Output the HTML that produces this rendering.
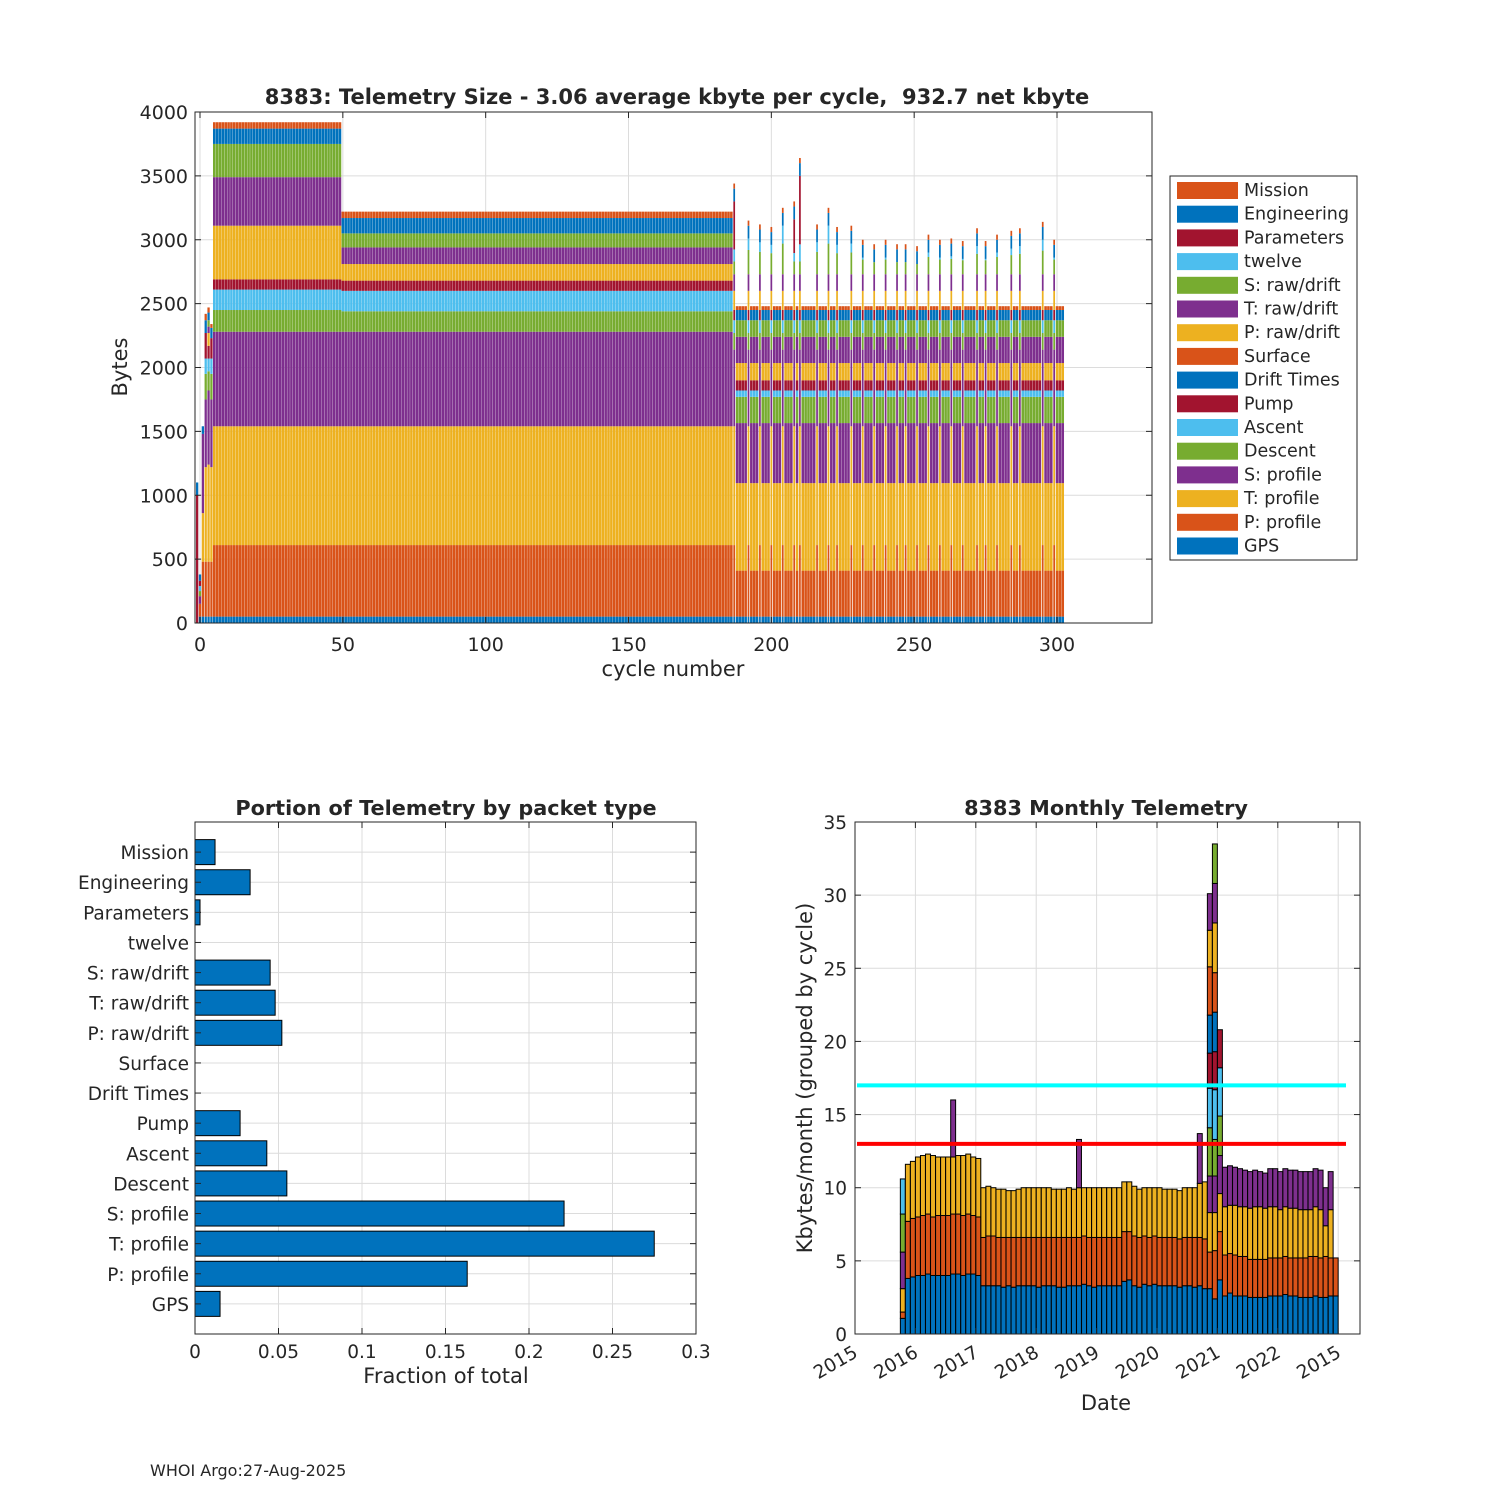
<!DOCTYPE html>
<html><head><meta charset="utf-8"><style>
body{margin:0;background:#fff}
svg text{font-family:"DejaVu Sans","Liberation Sans",sans-serif;fill:#262626}
</style></head><body>
<svg id="s" width="1500" height="1500" viewBox="0 0 1500 1500" xmlns="http://www.w3.org/2000/svg">
<rect width="1500" height="1500" fill="#fff"/>
<g id="top"></g>
<g id="bl"></g>
<g id="br"></g>
<text x="150" y="1476" font-size="16">WHOI Argo:27-Aug-2025</text>
</svg>
<script>
// ---------- TOP CHART DATA ----------
const segNames = ["GPS","P: profile","T: profile","S: profile","Descent","Ascent","Pump","Drift Times","Surface","P: raw/drift","T: raw/drift","S: raw/drift","twelve","Parameters","Engineering","Mission"];
const earlyStacks = [
 [0,0,0,0,0,0,1000,0,0,0,0,0,0,0,100,0],
 [50,100,0,60,40,40,40,0,0,0,0,0,0,0,50,0],
 [50,430,380,620,0,0,0,0,0,0,0,0,0,0,60,0],
 [50,430,740,530,200,120,200,0,0,0,0,0,0,0,100,50],
 [50,430,760,580,150,100,100,0,0,100,50,50,0,0,60,40],
 [50,430,740,530,200,120,160,0,0,0,0,0,0,0,80,30]
];
const segA = [50,560,930,740,170,160,80,0,0,420,380,260,0,0,120,50];
const segB = [50,560,930,740,160,160,80,0,0,130,130,110,0,0,120,50];
const segC = [50,360,685,470,205,50,80,0,0,135,205,130,0,0,80,30];
const segSpike = [50,560,930,600,130,100,80,0,0,150,130,100,0,0,100,40];
const phaseRuns = [["A",45],["B",137],["C",116]];
const spikeCycles = [187,192,196,200,204,208,210,216,220,223,228,232,236,240,244,247,251,255,259,263,267,272,275,279,284,287,295,299];
const spikeTops = [3440,3150,3120,3100,3250,3300,3640,3120,3250,3100,3110,3000,2960,3000,2960,2960,2930,3040,3000,3010,2990,3090,2990,3040,3070,3090,3140,3000];
// ---------- BOTTOM-LEFT DATA ----------
const packetNames = ["GPS","P: profile","T: profile","S: profile","Descent","Ascent","Pump","Drift Times","Surface","P: raw/drift","T: raw/drift","S: raw/drift","twelve","Parameters","Engineering","Mission"];
const packetFractions = [0.015,0.163,0.275,0.221,0.055,0.043,0.027,0,0,0.052,0.048,0.045,0,0.003,0.033,0.012];
const fracTicks = ["0","0.05","0.1","0.15","0.2","0.25","0.3"];
// ---------- BOTTOM-RIGHT DATA ----------
const monthBlue = [1.07,3.8,3.9,4.0,4.0,4.1,4.0,4.0,4.0,4.0,4.1,4.1,4.0,4.1,4.1,4.0,
 3.3,3.3,3.3,3.3,3.2,3.3,3.2,3.3,3.3,3.3,3.3,3.2,3.3,3.3,3.3,3.2,3.2,3.3,3.3,3.3,3.4,3.3,3.2,3.3,3.3,3.3,
 3.3,
 3.3,3.6,3.7,3.3,3.2,3.4,3.3,3.4,3.3,3.3,3.3,3.3,3.2,3.3,3.3,3.2,3.3,3.1,
 3.1,2.4,3.7,
 2.6,2.8,2.6,2.6,2.6,2.5,2.5,2.5,2.5,2.6,2.6,2.6,2.7,2.6,2.6,2.5,2.5,2.5,2.6,2.5,2.5,2.6];
const monthOrange = [0.43,3.9,4.0,4.0,4.1,4.1,4.0,4.1,4.1,4.1,4.1,4.1,4.1,4.1,4.0,4.0,
 3.3,3.4,3.4,3.3,3.4,3.3,3.4,3.3,3.3,3.3,3.3,3.4,3.3,3.3,3.3,3.4,3.4,3.3,3.3,3.3,3.3,3.3,3.4,3.3,3.3,3.3,
 3.3,
 3.3,3.4,3.3,3.4,3.4,3.3,3.3,3.3,3.3,3.3,3.3,3.3,3.3,3.3,3.3,3.4,3.3,3.4,
 2.5,3.3,3.3,
 2.8,2.7,2.8,2.7,2.7,2.6,2.6,2.6,2.6,2.6,2.6,2.6,2.6,2.6,2.6,2.7,2.7,2.8,2.7,2.7,2.8,2.6];
const monthYellow = [1.6,3.9,3.9,4.1,4.1,4.1,4.2,4.0,4.0,4.0,3.9,4.0,4.1,4.1,4.0,4.0,
 3.4,3.4,3.3,3.3,3.3,3.2,3.2,3.3,3.4,3.4,3.4,3.4,3.4,3.4,3.3,3.3,3.3,3.4,3.3,3.4,3.3,3.4,3.4,3.4,3.4,3.4,
 3.4,
 3.4,3.4,3.4,3.4,3.3,3.3,3.4,3.3,3.4,3.3,3.3,3.3,3.3,3.4,3.4,3.4,3.7,3.9,
 2.7,2.6,2.6,
 3.3,3.3,3.4,3.4,3.4,3.5,3.6,3.6,3.5,3.5,3.5,3.3,3.4,3.4,3.4,3.3,3.3,3.2,3.4,3.3,2.1,3.3];
const monthPurple = [2.5,0,0,0,0,0,0,0,0,0,3.9,0,0,0,0,0,
 0,0,0,0,0,0,0,0,0,0,0,0,0,0,0,0,0,0,0,3.3,0,0,0,0,0,0,
 0,
 0,0,0,0,0,0,0,0,0,0,0,0,0,0,0,0,3.4,0,
 2.5,2.5,2.6,
 2.7,2.7,2.6,2.6,2.5,2.5,2.5,2.4,2.4,2.6,2.6,2.6,2.6,2.6,2.6,2.6,2.6,2.6,2.6,2.7,2.6,2.6];
const extraMonths = [0,61,62,63];
const extraKeys = [["g","c"],["g","c","r","b","o","y","p"],["g","c","r","b","o","y","p","g"],["g","c","r"]];
const extraVals = [[2.6,2.4],[3.3,2.7,2.4,2.6,3.3,2.5,2.5],[2.5,3.4,2.6,2.7,2.7,3.4,2.7,2.7],[2.7,3.3,2.6]];
const lastMonthBlue = 2.6, lastMonthOrange = 2.6;
const yearTickLabels = ["2015","2016","2017","2018","2019","2020","2021","2022","2015"];
const refLines = [17,13];

// ---------- helpers ----------
const NS="http://www.w3.org/2000/svg";
const C={b:"#0072BD",o:"#D95319",y:"#EDB120",p:"#7E2F8E",g:"#77AC30",c:"#4DBEEE",r:"#A2142F"};
const segColors=[C.b,C.o,C.y,C.p,C.g,C.c,C.r,C.b,C.o,C.y,C.p,C.g,C.c,C.r,C.b,C.o];
function mk(tag,at,parent){const e=document.createElementNS(NS,tag);for(const k in at)e.setAttribute(k,at[k]);parent.appendChild(e);return e;}
function txt(parent,x,y,s,size,anchor,extra){const t=mk("text",Object.assign({x:x,y:y,"font-size":size,"text-anchor":anchor||"middle"},extra||{}),parent);t.textContent=s;return t;}

// ---------- TOP CHART ----------
(function(){
 const g=document.getElementById("top");
 const L=195,R=1152,T=112,B=623,xmin=-1.75,xmax=333.25,ymax=4000;
 const X=v=>L+(v-xmin)/(xmax-xmin)*(R-L), Y=v=>B-v/ymax*(B-T);
 const grid=mk("g",{},g);
 for(let v=0;v<=4000;v+=500){mk("line",{x1:L,x2:R,y1:Y(v),y2:Y(v),stroke:"#dcdcdc"},grid);}
 for(let v=0;v<=300;v+=50){mk("line",{x1:X(v),x2:X(v),y1:T,y2:B,stroke:"#dcdcdc"},grid);}
 const bars=mk("g",{},g);
 const stacks=[];
 earlyStacks.forEach((s,i)=>stacks.push({c:i-1,s:s.slice(),w:0.8}));
 let c=5;
 phaseRuns.forEach(([p,n])=>{const base=p==="A"?segA:p==="B"?segB:segC;for(let k=0;k<n;k++){stacks.push({c:c,s:base.slice(),w:0.9});c++;}});
 stacks.forEach(st=>{
   const si=spikeCycles.indexOf(st.c);
   if(si>=0){st.s=segSpike.slice();let sum=st.s.reduce((a,b)=>a+b,0);const d=spikeTops[si]-sum;
     if(d>300){st.s[13]+=d*0.8;st.s[12]+=d*0.2;}else{st.s[12]+=Math.max(0,d*0.5);st.s[11]+=d*0.5;}st.w=0.6;}
   let acc=0;const w=(X(1)-X(0))*st.w;
   st.s.forEach((h,k)=>{if(h<=0)return;const r=mk("rect",{x:X(st.c)-w/2,y:Y(acc+h),width:w,height:Y(acc)-Y(acc+h),fill:segColors[k]},bars);
     acc+=h;});
 });
 mk("rect",{x:L,y:T,width:R-L,height:B-T,fill:"none",stroke:"#262626","stroke-width":1},g);
 for(let v=0;v<=4000;v+=500){mk("line",{x1:L,x2:L+6,y1:Y(v),y2:Y(v),stroke:"#262626"},g);mk("line",{x1:R,x2:R-6,y1:Y(v),y2:Y(v),stroke:"#262626"},g);
   const t=txt(g,L-7,Y(v)+7,String(v),19,"end");}
 for(let v=0;v<=300;v+=50){mk("line",{x1:X(v),x2:X(v),y1:B,y2:B-6,stroke:"#262626"},g);mk("line",{x1:X(v),x2:X(v),y1:T,y2:T+6,stroke:"#262626"},g);
   const t=txt(g,X(v),B+28,String(v),19);}
 let t=txt(g,677,104,"8383: Telemetry Size - 3.06 average kbyte per cycle,\u00a0\u00a0932.7 net kbyte",21,"middle",{"font-weight":"bold",fill:"#000"});
 t=txt(g,673,676,"cycle number",21);
 t=txt(g,127,367,"Bytes",21,"middle",{transform:"rotate(-90 127 367)"});
 const lg=mk("g",{},g);
 mk("rect",{x:1170,y:176,width:187,height:384,fill:"#fff",stroke:"#262626"},lg);
 for(let i=0;i<16;i++){const k=15-i;const y=190+i*23.7;
   const e=mk("g",{},lg);
   mk("rect",{x:1177,y:y-8,width:61,height:17,fill:segColors[k]},e);
   txt(e,1244,y+6,segNames[k],17.5,"start");}
})();

// ---------- BOTTOM-LEFT ----------
(function(){
 const g=document.getElementById("bl");
 const L=195,R=696,T=822,B=1334;
 const X=v=>L+v/0.3*(R-L), Y=v=>B-v/17*(B-T);
 for(let i=0;i<7;i++){mk("line",{x1:X(i*0.05),x2:X(i*0.05),y1:T,y2:B,stroke:"#dcdcdc"},g);}
 for(let i=1;i<=16;i++){mk("line",{x1:L,x2:R,y1:Y(i),y2:Y(i),stroke:"#dcdcdc"},g);}
 packetFractions.forEach((v,i)=>{const h=25;if(v>0){const r=mk("rect",{x:L,y:Y(i+1)-h/2,width:X(v)-L,height:h,fill:"#0072BD",stroke:"#000","stroke-width":1},g);
   }
   const t=txt(g,L-6,Y(i+1)+7,packetNames[i],18.5,"end");
   mk("line",{x1:L,x2:L+6,y1:Y(i+1),y2:Y(i+1),stroke:"#262626"},g);mk("line",{x1:R,x2:R-6,y1:Y(i+1),y2:Y(i+1),stroke:"#262626"},g);});
 mk("rect",{x:L,y:T,width:R-L,height:B-T,fill:"none",stroke:"#262626"},g);
 fracTicks.forEach((s,i)=>{const x=X(i*0.05);mk("line",{x1:x,x2:x,y1:B,y2:B-6,stroke:"#262626"},g);mk("line",{x1:x,x2:x,y1:T,y2:T+6,stroke:"#262626"},g);
   const t=txt(g,x,B+24,s,18.5);});
 let t=txt(g,446,815,"Portion of Telemetry by packet type",20.8,"middle",{"font-weight":"bold",fill:"#000"});
 t=txt(g,446,1383,"Fraction of total",21);
})();

// ---------- BOTTOM-RIGHT ----------
(function(){
 const g=document.getElementById("br");
 const L=855,R=1360,T=822,B=1334,yr=60.4;
 const Y=v=>B-v/35*(B-T);
 const XM=m=>L+(9.5+m)/12*yr;
 for(let v=0;v<=35;v+=5)mk("line",{x1:L,x2:R,y1:Y(v),y2:Y(v),stroke:"#dcdcdc"},g);
 yearTickLabels.forEach((s,i)=>{const x=L+i*yr;mk("line",{x1:x,x2:x,y1:T,y2:B,stroke:"#dcdcdc"},g);});
 const w=yr/12*0.98;
 const nM=monthBlue.length;
 for(let m=0;m<=nM;m++){
   let segs;
   if(m===nM){segs=[[C.b,lastMonthBlue],[C.o,lastMonthOrange]];}
   else segs=[[C.b,monthBlue[m]],[C.o,monthOrange[m]],[C.y,monthYellow[m]],[C.p,monthPurple[m]]];
   const ei=extraMonths.indexOf(m);if(ei>=0)extraKeys[ei].forEach((k,j)=>segs.push([C[k],extraVals[ei][j]]));
   let acc=0;segs.forEach(([col,h])=>{if(h<=0)return;const r=mk("rect",{x:XM(m)-w/2,y:Y(acc+h),width:w,height:Y(acc)-Y(acc+h),fill:col,stroke:"#000","stroke-width":1},g);
     acc+=h;});
 }
 const lc=["#00FFFF","#FF0000"];
 refLines.forEach((v,i)=>{const l=mk("line",{x1:857,x2:1346,y1:Y(v),y2:Y(v),stroke:lc[i],"stroke-width":4},g);});
 mk("rect",{x:L,y:T,width:R-L,height:B-T,fill:"none",stroke:"#262626"},g);
 for(let v=0;v<=35;v+=5){mk("line",{x1:L,x2:L+6,y1:Y(v),y2:Y(v),stroke:"#262626"},g);mk("line",{x1:R,x2:R-6,y1:Y(v),y2:Y(v),stroke:"#262626"},g);
   const t=txt(g,L-8,Y(v)+7,String(v),18.5,"end");}
 yearTickLabels.forEach((s,i)=>{const x=L+i*yr;mk("line",{x1:x,x2:x,y1:B,y2:B-6,stroke:"#262626"},g);mk("line",{x1:x,x2:x,y1:T,y2:T+6,stroke:"#262626"},g);
   const t=txt(g,x+4,B+22,s,18.5,"end",{transform:"rotate(-30 "+(x+4)+" "+(B+22)+")"});});
 let t=txt(g,1106,815,"8383 Monthly Telemetry",20.8,"middle",{"font-weight":"bold",fill:"#000"});
 t=txt(g,1106,1410,"Date",21);
 t=txt(g,812,1078,"Kbytes/month (grouped by cycle)",21,"middle",{transform:"rotate(-90 812 1078)"});
})();
</script>
</body></html>
